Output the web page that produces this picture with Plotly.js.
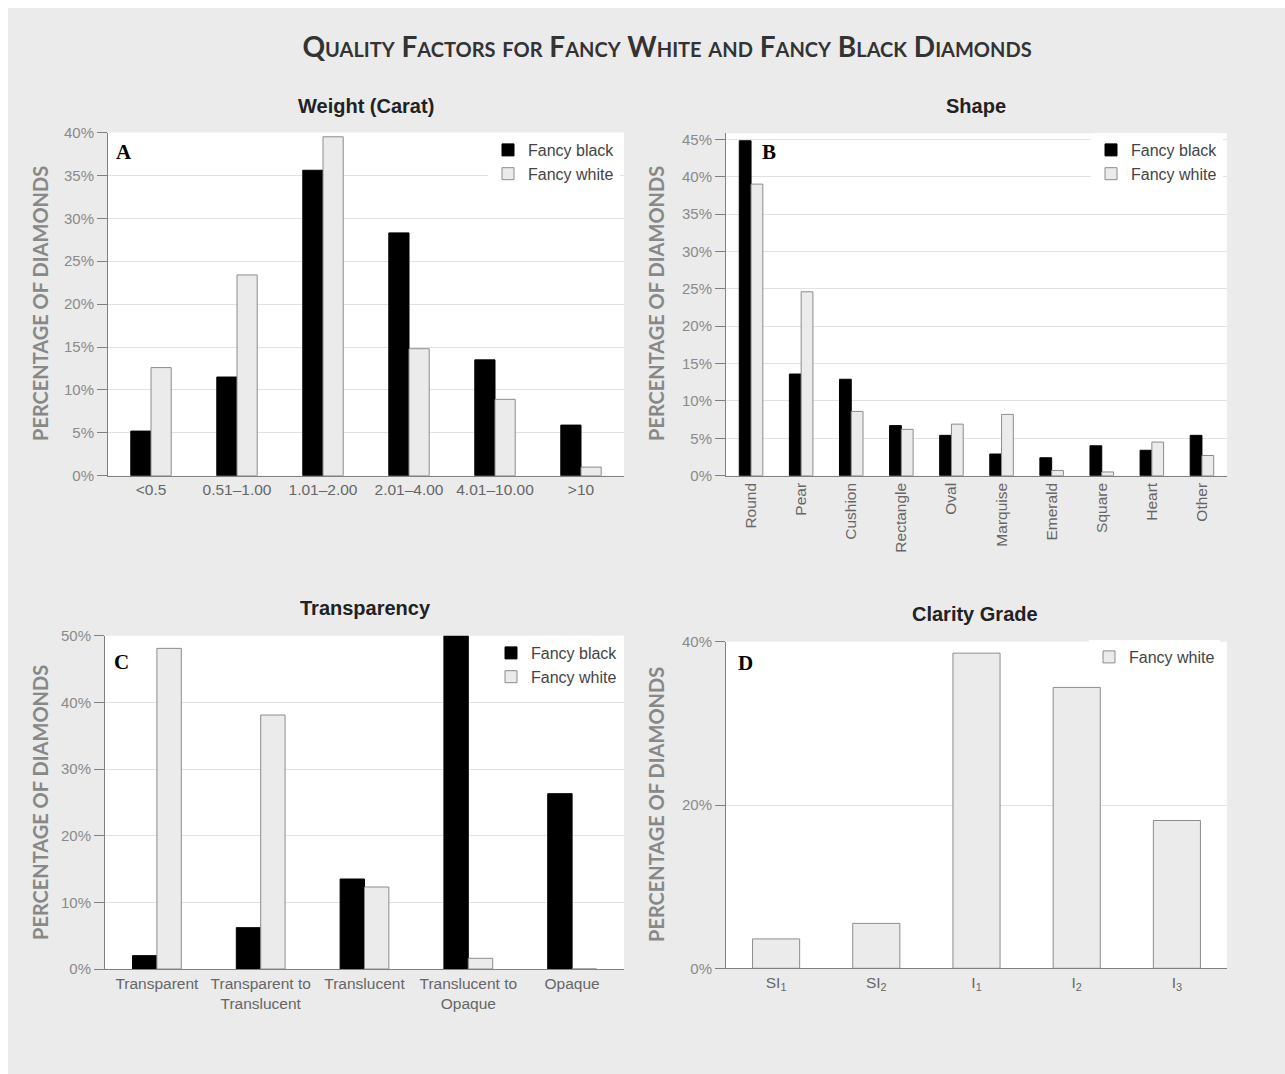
<!DOCTYPE html>
<html>
<head>
<meta charset="utf-8">
<script src="https://cdn.plot.ly/plotly-3.0.1.min.js"></script>
<style>
  html, body { margin: 0; padding: 0; background: #ffffff; overflow: hidden; }
  #wrap { padding: 8px 0 0 8px; }
  #chart { width: 1277px; height: 1066px; }
</style>
</head>
<body>
<div id="wrap"><div id="chart"></div></div>
<script>
// ---------- DATA ----------
const weightCats = ['<0.5', '0.51–1.00', '1.01–2.00', '2.01–4.00', '4.01–10.00', '>10'];
const weightBlack = [5.2, 11.5, 35.6, 28.3, 13.5, 5.9];
const weightWhite = [12.6, 23.4, 39.5, 14.8, 8.9, 1.0];

const shapeCats = ['Round', 'Pear', 'Cushion', 'Rectangle', 'Oval', 'Marquise', 'Emerald', 'Square', 'Heart', 'Other'];
const shapeBlack = [44.8, 13.6, 12.9, 6.7, 5.4, 2.9, 2.4, 4.0, 3.4, 5.4];
const shapeWhite = [39.0, 24.6, 8.6, 6.2, 6.9, 8.2, 0.7, 0.5, 4.5, 2.7];

const transCats = ['Transparent', 'Transparent to<br>Translucent', 'Translucent', 'Translucent to<br>Opaque', 'Opaque'];
const transBlack = [2.0, 6.2, 13.5, 50.0, 26.3];
const transWhite = [48.1, 38.1, 12.3, 1.6, 0];

const clarityCats = ['SI<sub>1</sub>', 'SI<sub>2</sub>', 'I<sub>1</sub>', 'I<sub>2</sub>', 'I<sub>3</sub>'];
const clarityWhite = [3.6, 5.5, 38.6, 34.4, 18.1];

const seriesNames = ['Fancy black', 'Fancy white'];

// ---------- STYLE / LAYOUT HELPERS ----------
const W = 1277, H = 1066;
const px = x => (x - 8) / W;
const py = y => 1 - (y - 8) / H;

const BLACK = { color: '#000000', line: { color: '#000000', width: 1 } };
const WHITE = { color: '#ebebeb', line: { color: '#8c8c8c', width: 1 } };
const SANS = 'Liberation Sans, Arial, Helvetica, sans-serif';

function bar(x, y, name, marker, xa, ya, legend, show) {
  return { type: 'bar', x: x, y: y, name: name, marker: marker, xaxis: xa, yaxis: ya,
           legend: legend, showlegend: show, hoverinfo: 'skip', cliponaxis: true };
}

const traces = [
  bar(weightCats, weightBlack, seriesNames[0], BLACK, 'x', 'y', 'legend', true),
  bar(weightCats, weightWhite, seriesNames[1], WHITE, 'x', 'y', 'legend', true),
  bar(shapeCats, shapeBlack, seriesNames[0], BLACK, 'x2', 'y2', 'legend2', true),
  bar(shapeCats, shapeWhite, seriesNames[1], WHITE, 'x2', 'y2', 'legend2', true),
  bar(transCats, transBlack, seriesNames[0], BLACK, 'x3', 'y3', 'legend3', true),
  bar(transCats, transWhite, seriesNames[1], WHITE, 'x3', 'y3', 'legend3', true),
  bar(clarityCats, clarityWhite, seriesNames[1], WHITE, 'x4', 'y4', 'legend4', true)
];

function xax(domain, anchor, extra) {
  return Object.assign({
    domain: domain, anchor: anchor, type: 'category',
    showline: true, linecolor: '#808080', linewidth: 1,
    ticks: '', showgrid: false, zeroline: false,
    tickfont: { family: SANS, size: 15.5, color: '#666666' },
    fixedrange: true
  }, extra || {});
}
function yax(domain, anchor, range, dtick) {
  return {
    domain: domain, anchor: anchor, range: range, dtick: dtick, tick0: 0,
    ticksuffix: '%', showline: true, linecolor: '#808080', linewidth: 1,
    ticks: 'outside', ticklen: 10, tickcolor: '#808080', tickwidth: 1,
    showgrid: true, gridcolor: '#e2e2e2', gridwidth: 1, zeroline: false,
    tickfont: { family: SANS, size: 15, color: '#8a8a8a' },
    fixedrange: true
  };
}

const xA = [px(108), px(624)], yA = [py(475.7), py(132.5)];
const xB = [px(726), px(1227)], yB = [py(475.7), py(133.3)];
const xC = [px(105), px(624)], yC = [py(969), py(635.7)];
const xD = [px(726), px(1227)], yD = [py(968.3), py(641.7)];

function legendAt(x, y) {
  return {
    x: px(x), y: py(y), xanchor: 'left', yanchor: 'top', xref: 'paper', yref: 'paper',
    bgcolor: '#ffffff', borderwidth: 0, traceorder: 'normal', itemwidth: 30,
    font: { family: SANS, size: 16, color: '#444444' }, itemclick: false, itemdoubleclick: false
  };
}

function subTitle(text, x, y) {
  return { text: text, x: px(x), y: py(y), xref: 'paper', yref: 'paper', showarrow: false,
           xanchor: 'center', yanchor: 'middle',
           font: { family: SANS, size: 20, color: '#222222', weight: 'bold' } };
}
function yTitle(x, y) {
  return { text: 'PERCENTAGE OF DIAMONDS', x: px(x), y: py(y), xref: 'paper', yref: 'paper',
           showarrow: false, textangle: -90, xanchor: 'center', yanchor: 'middle',
           font: { family: 'Lato, sans-serif', size: 20, color: '#888888', weight: 'bold' } };
}
function letter(t, x, y) {
  return { text: t, x: px(x), y: py(y), xref: 'paper', yref: 'paper', showarrow: false,
           xanchor: 'center', yanchor: 'middle',
           font: { family: 'Liberation Serif, serif', size: 21, color: '#000000', weight: 'bold' } };
}

const layout = {
  width: W, height: H,
  margin: { l: 0, r: 0, t: 0, b: 0 },
  paper_bgcolor: '#ebebeb', plot_bgcolor: '#ffffff',
  barmode: 'group', bargap: 0.53, bargroupgap: 0,
  title: {
    text: 'Quality Factors for Fancy White and Fancy Black Diamonds',
    x: px(667), y: py(47), xref: 'paper', yref: 'paper', xanchor: 'center', yanchor: 'middle',
    font: { family: 'Lato, sans-serif', size: 28, color: '#333333', weight: 'bold', variant: 'small-caps' }
  },
  xaxis: xax(xA, 'y'),
  yaxis: yax(yA, 'x', [0, 40], 5),
  xaxis2: xax(xB, 'y2', { tickangle: -90 }),
  yaxis2: yax(yB, 'x2', [0, 45.8], 5),
  xaxis3: xax(xC, 'y3'),
  yaxis3: yax(yC, 'x3', [0, 50], 10),
  xaxis4: xax(xD, 'y4'),
  yaxis4: yax(yD, 'x4', [0, 40], 20),
  legend: legendAt(488, 133),
  legend2: legendAt(1091, 133),
  legend3: legendAt(491, 636),
  legend4: legendAt(1089, 640),
  annotations: [
    subTitle('Weight (Carat)', 366, 106),
    subTitle('Shape', 976, 106),
    subTitle('Transparency', 365, 608),
    subTitle('Clarity Grade', 975, 614),
    yTitle(40, 304), yTitle(656, 304), yTitle(40, 803), yTitle(656, 805),
    letter('A', 124, 152), letter('B', 769, 152), letter('C', 121, 662), letter('D', 745, 663)
  ],
  showlegend: true
};

Plotly.newPlot('chart', traces, layout, { displayModeBar: false, staticPlot: true });
</script>
</body>
</html>
